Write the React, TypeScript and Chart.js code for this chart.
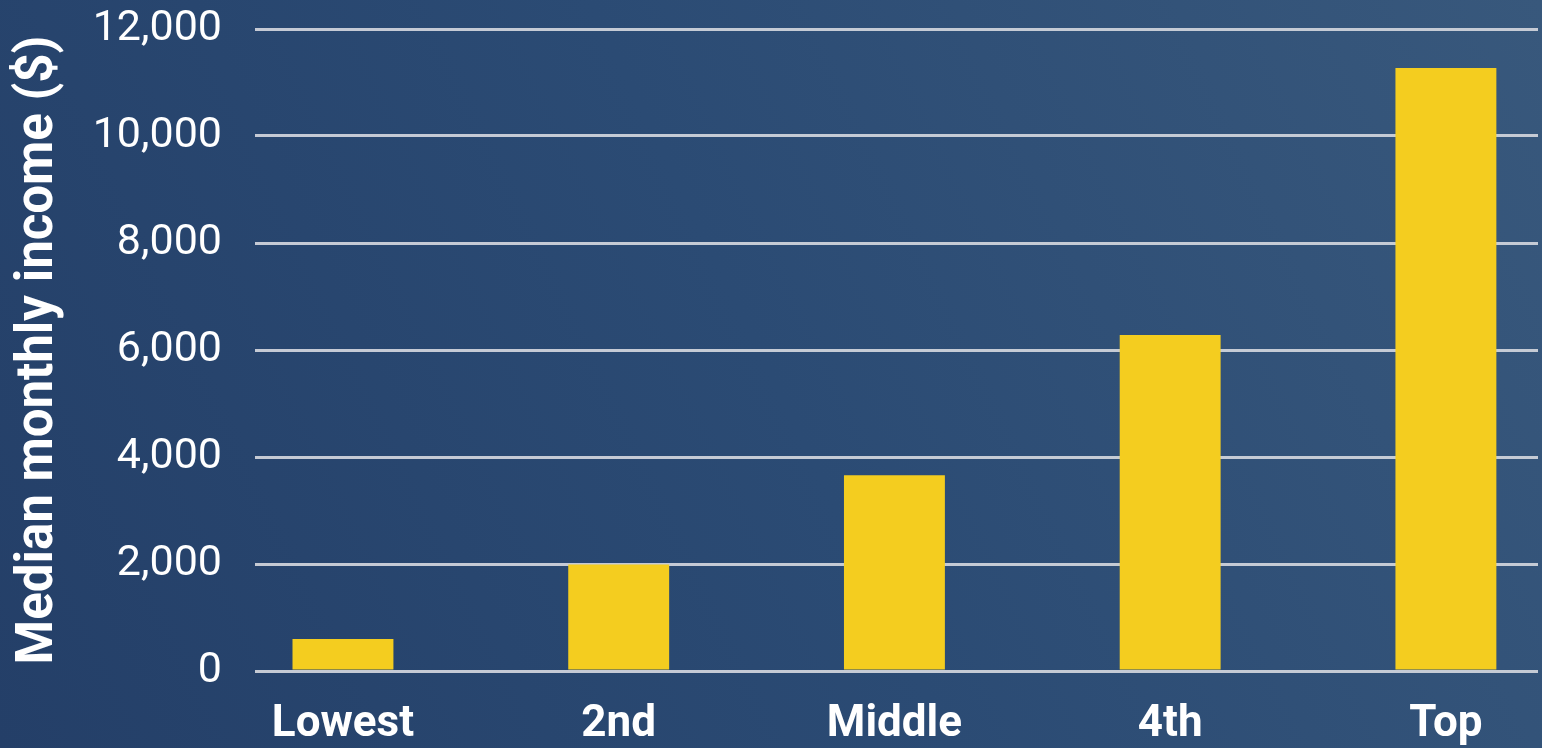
import React, { useEffect, useRef } from "react";
import { Chart, registerables } from "chart.js";

Chart.register(...registerables);

const categories = ["Lowest", "2nd", "Middle", "4th", "Top"];
const incomes = [600, 1990, 3660, 6280, 11270];
const yTickValues = [0, 2000, 4000, 6000, 8000, 10000, 12000];
const yTitle = "Median monthly income ($)";

const bgPlugin = {
  id: "bgFill",
  beforeDraw(chart: any) {
    const { ctx, width, height } = chart;
    ctx.save();
    const g = ctx.createLinearGradient(0, height, width, 0);
    g.addColorStop(0, "#243f68");
    g.addColorStop(0.5, "#2b4b74");
    g.addColorStop(1, "#38587c");
    ctx.fillStyle = g;
    ctx.fillRect(0, 0, width, height);
    ctx.restore();
  },
};

export default function App() {
  const ref = useRef<HTMLCanvasElement | null>(null);

  useEffect(() => {
    document.body.style.margin = "0";
    const canvas = ref.current;
    if (!canvas) return;
    const chart = new Chart(canvas, {
      type: "bar",
      data: {
        datasets: [
          {
            data: categories.map((_, i) => ({ x: i, y: incomes[i] })),
            backgroundColor: "#f4cd1f",
            borderWidth: 0,
            categoryPercentage: 1,
            barPercentage: 0.366,
          },
        ],
      },
      options: {
        animation: false,
        responsive: false,
        maintainAspectRatio: false,
        layout: { padding: { left: 0, right: 4, top: 29, bottom: 0 } },
        plugins: {
          legend: { display: false },
          tooltip: { enabled: false },
        },
        scales: {
          x: {
            type: "linear",
            offset: false,
            min: -0.319,
            max: 4.334,
            grid: { display: false },
            border: { display: false },
            afterBuildTicks: (axis: any) => {
              axis.ticks = categories.map((_, i) => ({ value: i }));
            },
            afterFit: (axis: any) => {
              axis.height = 77;
              axis.paddingLeft = 0;
              axis.paddingRight = 0;
            },
            ticks: {
              autoSkip: false,
              maxRotation: 0,
              padding: 20,
              color: "#ffffff",
              font: { family: "Roboto", size: 44, weight: "bold" },
              callback: (v: any) => categories[Math.round(Number(v))] ?? "",
            },
          },
          y: {
            min: 0,
            max: 12000,
            afterBuildTicks: (axis: any) => {
              axis.ticks = yTickValues.map((v) => ({ value: v }));
            },
            afterFit: (axis: any) => {
              axis.width = 255;
              axis.paddingTop = 0;
              axis.paddingBottom = 0;
            },
            grid: {
              color: "rgba(205,210,218,0.95)",
              lineWidth: 3,
              drawTicks: false,
            },
            border: { display: false },
            ticks: {
              padding: 33,
              color: "#ffffff",
              font: { family: "Roboto", size: 43, weight: "normal" },
              callback: (v: any) => Number(v).toLocaleString("en-US"),
            },
            title: {
              display: true,
              text: yTitle,
              color: "#ffffff",
              font: { family: "Roboto", size: 51, weight: "bold" },
              padding: { top: 9, bottom: 0 },
            },
          },
        },
      },
      plugins: [bgPlugin],
    } as any);
    return () => chart.destroy();
  }, []);

  return (
    <div style={{ position: "fixed", left: 0, top: 0, width: 1542, height: 748 }}>
      <canvas ref={ref} width={1542} height={748} style={{ width: 1542, height: 748, display: "block" }} />
    </div>
  );
}
